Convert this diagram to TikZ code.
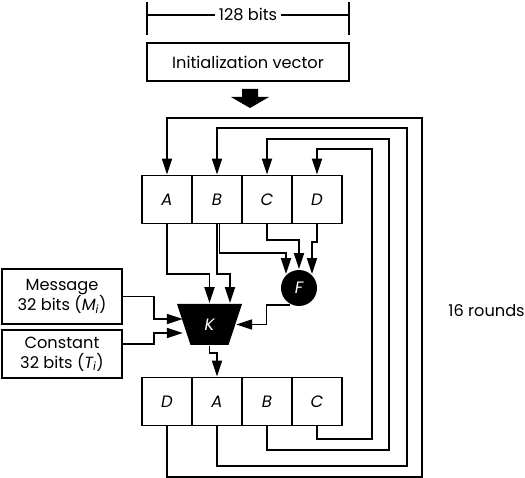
\documentclass[tikz,border=0pt]{standalone}
\usepackage{fontspec}
\setmainfont{Poppins}
\usetikzlibrary{arrows.meta,shapes.geometric}

\begin{document}
\begin{tikzpicture}[x=1pt,y=-1pt,line width=1.8pt,
    every node/.style={font=\fontsize{16.2}{20}\selectfont},
    arr/.style={-{Triangle[length=16pt,width=10pt]}},
    reg/.style={draw,minimum width=50pt,minimum height=48pt,inner sep=0pt,font=\fontsize{16.5}{20}\selectfont\itshape},
    inbox/.style={draw,minimum width=120pt,align=center,inner sep=0pt},
    blob/.style={fill=black,text=white,inner sep=0pt,font=\fontsize{16.5}{20}\selectfont\itshape}]
      \useasboundingbox (0,0) rectangle (525,478);
      % \draw[help lines, gray!50, very thin] (0,0) grid[step=50] (525,478);

      % width of the state
      \coordinate (wl) at (147,15);
      \coordinate (wr) at (349,15);
      \node (wd) at (248,15) {128 bits};
      \draw (147,2) -- (147,35);
      \draw (349,2) -- (349,35);
      \draw (wl) -- (wd.west);
      \draw (wd.east) -- (wr);

      \node (iv) at (248,62) [draw, minimum width=202pt, minimum height=38pt, inner sep=0pt] {Initialization vector};
      \fill (242,89) -- (258,89) -- (258,97) -- (269,97) -- (250,108) -- (231,97) -- (242,97) -- cycle;

      % registers before the round
      \node (a1) at (167,199.5) [reg] {A};
      \node (b1) at (217,199.5) [reg] {B};
      \node (c1) at (267,199.5) [reg] {C};
      \node (d1) at (317,199.5) [reg] {D};

      % registers after the round
      \node (d2) at (167,401.5) [reg] {D};
      \node (a2) at (217,401.5) [reg] {A};
      \node (b2) at (267,401.5) [reg] {B};
      \node (c2) at (317,401.5) [reg] {C};

      \node (msg) at (62,296.5) [inbox, minimum height=55pt] {Message\\32 bits (\textit{M\textsubscript{i}})};
      \node (cst) at (62,354) [inbox, minimum height=48pt] {Constant\\32 bits (\textit{T\textsubscript{i}})};

      \node (f) at (299,288) [blob, circle, minimum size=36pt] {F};
      \node (k) at (209.5,324.5) [blob, trapezium, trapezium angle=107, trapezium stretches=true,
            minimum width=65pt, minimum height=41pt] {K};

      \node (rounds) at (486.5,311) {16 rounds};

      % inputs of F and K
      \draw[arr] (a1.south) -- ++(0,49.5) -| (k.north);
      \draw[arr] (b1.south) -- ++(0,49.5) -| ([xshift=20.5pt]k.north);
      \draw[arr] ([xshift=2.5pt]b1.south) -- ++(0,28.5) -| ([shift={(-13pt,-5pt)}]f.north);
      \draw[arr] (c1.south) -- ++(0,15.5) -| (f.north);
      \draw[arr] (d1.south) -- ++(0,17.5) -| ([shift={(13pt,-5pt)}]f.north);
      \draw[arr] (f.243) -- ++(-24,0) |- (k.east);
      \draw[arr] (msg.east) -- ++(31,0) |- ([yshift=5.5pt]k.west);
      \draw[arr] ([yshift=10pt]cst.east) -- ++(31,0) |- ([yshift=-8.5pt]k.west);
      \draw[arr] (k.south) -- ++(0,7) -| (a2.north);

      % feedback into the next round
      \draw[arr] (c2.south) -- ++(0,12.5) -| ++(55,-290) -| (d1.north);
      \draw[arr] (b2.south) -- ++(0,23.5) -| ++(122,-311) -| (c1.north);
      \draw[arr] (a2.south) -- ++(0,39.5) -| ++(190,-338) -| (b1.north);
      \draw[arr] (d2.south) -- ++(0,50.5) -| ++(255,-359) -| (a1.north);
    \end{tikzpicture}
\end{document}
